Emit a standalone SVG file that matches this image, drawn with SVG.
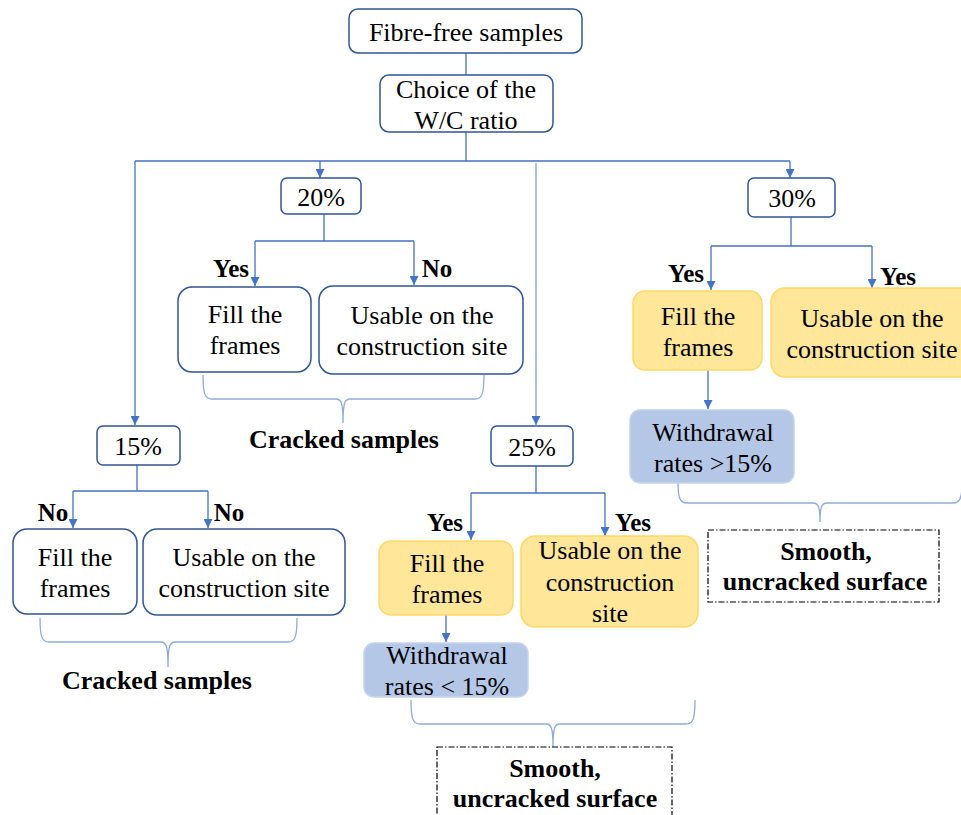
<svg xmlns="http://www.w3.org/2000/svg" width="961" height="815" viewBox="0 0 961 815">
<defs>
<marker id="ah" viewBox="0 0 10 10" refX="10" refY="5" markerWidth="9" markerHeight="9" markerUnits="userSpaceOnUse" orient="auto">
<path d="M0,0 L10,5 L0,10 z" fill="#4472C4"/>
</marker>
<style>
.node{fill:#fff;stroke:#2F5597;stroke-width:1.5}
.yel{fill:#FFE699;stroke:#FFD966;stroke-width:1.5}
.blu{fill:#B4C7E7;stroke:#C5D4EE;stroke-width:1.5}
.dash{fill:#fff;stroke:#000;stroke-width:1.2;stroke-dasharray:6 2 1.5 2}
.t{font-family:"Liberation Serif","Times New Roman",serif;font-size:26px;fill:#000;text-anchor:middle}
.b{font-family:"Liberation Serif","Times New Roman",serif;font-size:26px;font-weight:bold;fill:#000;text-anchor:middle}
.lb{font-family:"Liberation Serif","Times New Roman",serif;font-size:25px;font-weight:bold;fill:#000;text-anchor:middle}
.c{fill:none;stroke:#4472C4;stroke-width:1.3}
.cl{fill:none;stroke:#7F9FD8;stroke-width:1.3}
.br{fill:none;stroke:#8FAADC;stroke-width:1.3}
</style>
</defs>
<rect width="961" height="815" fill="#fff"/>

<g id="connectors">
<path class="c" d="M466,53 V75"/>
<path class="c" d="M466,132 V161 M135,161 H790"/>
<path class="c" d="M135,161 V425" marker-end="url(#ah)"/>
<path class="c" d="M320,161 V178" marker-end="url(#ah)"/>
<path class="cl" d="M536,163 V425" marker-end="url(#ah)"/>
<path class="c" d="M790,161 V178" marker-end="url(#ah)"/>
<path class="c" d="M324,214 V241 M255,241 H414"/>
<path class="c" d="M255,241 V286" marker-end="url(#ah)"/>
<path class="c" d="M414,241 V285" marker-end="url(#ah)"/>
<path class="c" d="M137,465 V491 M73,491 H208"/>
<path class="c" d="M73,491 V528" marker-end="url(#ah)"/>
<path class="c" d="M208,491 V528" marker-end="url(#ah)"/>
<path class="c" d="M536,466 V493 M471,493 H605"/>
<path class="c" d="M471,493 V540" marker-end="url(#ah)"/>
<path class="c" d="M605,493 V536" marker-end="url(#ah)"/>
<path class="c" d="M446,615 V642" marker-end="url(#ah)"/>
<path class="c" d="M791,217 V246 M711,246 H872"/>
<path class="c" d="M711,246 V290" marker-end="url(#ah)"/>
<path class="c" d="M872,246 V288" marker-end="url(#ah)"/>
<path class="c" d="M708,370 V409" marker-end="url(#ah)"/>
<path class="br" d="M203,375 C203,394 205,399 212,399 L336,399 C341,399 343,402 343,423 C343,402 345,399 350,399 L475,399 C482,399 484,394 484,375"/>
<path class="br" d="M40,618 C40,637 42,642 49,642 L161,642 C166,642 168,645 168,667 C168,645 170,642 175,642 L288,642 C295,642 297,637 297,618"/>
<path class="br" d="M411,700 C411,719 413,724 420,724 L546,724 C551,724 553,727 553,747 C553,727 555,724 560,724 L686,724 C693,724 695,719 695,700"/>
<path class="br" d="M678,483 C678,498 680,503 687,503 L813,503 C818,503 820,506 820,522 C820,506 822,503 827,503 L953,503 C960,503 962,498 962,483"/>
</g>

<g id="fibre-free"><rect class="node" x="349" y="9" width="233" height="44" rx="9"/><text class="t" x="466" y="41">Fibre-free samples</text></g>
<g id="choice"><rect class="node" x="380" y="75" width="173" height="57" rx="9"/><text class="t" x="466" y="98">Choice of the</text><text class="t" x="466" y="129">W/C ratio</text></g>

<g id="p20"><rect class="node" x="281" y="178" width="80" height="36" rx="6"/><text class="t" x="321" y="206">20%</text></g>
<g id="p20-yes"><text class="lb" x="231" y="277">Yes</text></g>
<g id="p20-no"><text class="lb" x="437" y="277">No</text></g>
<g id="p20-fill"><rect class="node" x="178" y="287" width="133" height="85" rx="14"/><text class="t" x="245" y="323">Fill the</text><text class="t" x="245" y="354">frames</text></g>
<g id="p20-usable"><rect class="node" x="319" y="286" width="204" height="88" rx="14"/><text class="t" x="422" y="324">Usable on the</text><text class="t" x="422" y="355">construction site</text></g>
<g id="p20-cracked"><text class="b" x="344" y="448">Cracked samples</text></g>

<g id="p15"><rect class="node" x="97" y="426" width="83" height="39" rx="6"/><text class="t" x="138" y="455">15%</text></g>
<g id="p15-no1"><text class="lb" x="53" y="521">No</text></g>
<g id="p15-no2"><text class="lb" x="229" y="521">No</text></g>
<g id="p15-fill"><rect class="node" x="13" y="529" width="124" height="85" rx="14"/><text class="t" x="75" y="566">Fill the</text><text class="t" x="75" y="597">frames</text></g>
<g id="p15-usable"><rect class="node" x="143" y="529" width="202" height="86" rx="14"/><text class="t" x="244" y="566">Usable on the</text><text class="t" x="244" y="597">construction site</text></g>
<g id="p15-cracked"><text class="b" x="157" y="689">Cracked samples</text></g>

<g id="p25"><rect class="node" x="491" y="426" width="82" height="40" rx="6"/><text class="t" x="532" y="456">25%</text></g>
<g id="p25-yes1"><text class="lb" x="445" y="531">Yes</text></g>
<g id="p25-yes2"><text class="lb" x="633" y="531">Yes</text></g>
<g id="p25-fill"><rect class="yel" x="379" y="541" width="134" height="74" rx="12"/><text class="t" x="447" y="572">Fill the</text><text class="t" x="447" y="603">frames</text></g>
<g id="p25-usable"><rect class="yel" x="521" y="536" width="177" height="91" rx="14"/><text class="t" x="610" y="559">Usable on the</text><text class="t" x="610" y="591">construction</text><text class="t" x="610" y="622">site</text></g>
<g id="p25-withdrawal"><rect class="blu" x="364" y="643" width="164" height="54" rx="10"/><text class="t" x="447" y="664">Withdrawal</text><text class="t" x="447" y="695">rates &lt; 15%</text></g>
<g id="p25-smooth"><rect class="dash" x="437" y="747" width="235" height="80"/><text class="b" x="555" y="777">Smooth,</text><text class="b" x="555" y="807">uncracked surface</text></g>

<g id="p30"><rect class="node" x="748" y="178" width="87" height="39" rx="6"/><text class="t" x="792" y="207">30%</text></g>
<g id="p30-yes1"><text class="lb" x="686" y="282">Yes</text></g>
<g id="p30-yes2"><text class="lb" x="898" y="285">Yes</text></g>
<g id="p30-fill"><rect class="yel" x="633" y="291" width="129" height="79" rx="12"/><text class="t" x="698" y="325">Fill the</text><text class="t" x="698" y="356">frames</text></g>
<g id="p30-usable"><rect class="yel" x="771" y="288" width="204" height="89" rx="14"/><text class="t" x="872" y="327">Usable on the</text><text class="t" x="872" y="358">construction site</text></g>
<g id="p30-withdrawal"><rect class="blu" x="630" y="410" width="164" height="73" rx="10"/><text class="t" x="713" y="441">Withdrawal</text><text class="t" x="713" y="472">rates &gt;15%</text></g>
<g id="p30-smooth"><rect class="dash" x="708" y="530" width="231" height="72"/><text class="b" x="826" y="560">Smooth,</text><text class="b" x="825" y="590">uncracked surface</text></g>
</svg>
